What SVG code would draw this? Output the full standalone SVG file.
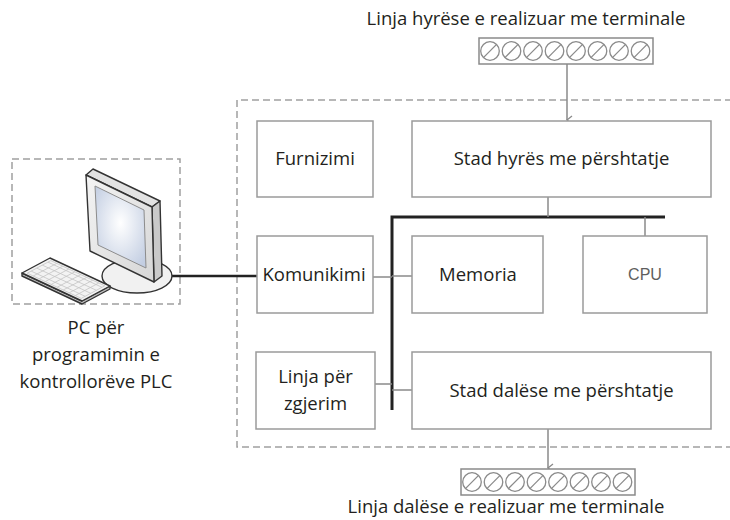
<svg xmlns="http://www.w3.org/2000/svg" width="730" height="520" viewBox="0 0 730 520">
  <style>
    .t { font-family: "Open Sans", "Noto Sans", sans-serif; font-size: 18.5px; fill: #231f20; text-anchor: middle; }
    .cpu { font-family: "Liberation Sans", Arial, sans-serif; font-size: 16px; fill: #5e5e5e; text-anchor: middle; }
    .box { fill: #ffffff; stroke: #9a9a9a; stroke-width: 1.5; }
    .dash { fill: none; stroke: #a0a0a0; stroke-width: 1.5; stroke-dasharray: 7 4; }
    .link { fill: none; stroke: #8a8a8a; stroke-width: 1.5; }
    .bus { fill: none; stroke: #222222; stroke-width: 3; }
    .cable { fill: none; stroke: #222222; stroke-width: 2.5; }
    .outline { stroke: #333333; stroke-width: 1.4; stroke-linejoin: round; }
  </style>
  <defs>
    <marker id="arrow" markerWidth="10" markerHeight="10" refX="5" refY="8" orient="auto-start-reverse" markerUnits="userSpaceOnUse" viewBox="0 0 10 10">
      <path d="M1,3 L5,8 L9,3" fill="none" stroke="#8a8a8a" stroke-width="1.3"/>
    </marker>
    <radialGradient id="screen" cx="0.5" cy="0.45" r="0.65">
      <stop offset="0" stop-color="#ffffff"/>
      <stop offset="1" stop-color="#c3cee2"/>
    </radialGradient>
    <linearGradient id="bezel" x1="0" y1="0" x2="1" y2="1">
      <stop offset="0" stop-color="#f4f4f4"/>
      <stop offset="1" stop-color="#d6d6d6"/>
    </linearGradient>
    <!-- one screw terminal: circle with a slot -->
    <g id="screw">
      <circle r="9.3" fill="#ffffff" stroke="#8a8a8a" stroke-width="1.3"/>
      <line x1="-6.6" y1="6.6" x2="6.6" y2="-6.6" stroke="#8a8a8a" stroke-width="1.3"/>
    </g>
    <!-- terminal strip with eight screws -->
    <g id="strip">
      <rect x="0" y="0" width="174" height="26" fill="#ffffff" stroke="#8a8a8a" stroke-width="1.5"/>
      <use href="#screw" x="11" y="13"/>
      <use href="#screw" x="32.5" y="13"/>
      <use href="#screw" x="54" y="13"/>
      <use href="#screw" x="75.5" y="13"/>
      <use href="#screw" x="97" y="13"/>
      <use href="#screw" x="118.5" y="13"/>
      <use href="#screw" x="140" y="13"/>
      <use href="#screw" x="161.5" y="13"/>
    </g>
  </defs>

  <rect width="730" height="520" fill="#ffffff"/>

  <!-- enclosures -->
  <path class="dash" d="M732,100 H237 V447 H732"/>
  <rect class="dash" x="12" y="159" width="168" height="145"/>

  <!-- connectors -->
  <g id="connectors">
    <path class="cable" d="M171,276 H257"/>
    <path class="bus" d="M392,410 V217 H665"/>
    <path class="link" d="M548,197 V217"/>
    <path class="link" d="M645,217 V236"/>
    <path class="link" d="M373,277 H392"/>
    <path class="link" d="M392,276 H412"/>
    <path class="link" d="M375,384 H392"/>
    <path class="link" d="M392,390 H412"/>
    <path class="link" d="M567,64 V120" marker-end="url(#arrow)"/>
    <path class="link" d="M548,429 V468" marker-end="url(#arrow)"/>
  </g>

  <!-- input terminals -->
  <g id="input-terminals">
    <text class="t" x="526" y="25">Linja hyrëse e realizuar me terminale</text>
    <use href="#strip" x="479" y="38"/>
  </g>

  <!-- output terminals -->
  <g id="output-terminals">
    <use href="#strip" x="461" y="469"/>
    <text class="t" x="506" y="513">Linja dalëse e realizuar me terminale</text>
  </g>

  <g id="furnizimi">
    <rect class="box" x="257" y="121" width="116" height="76"/>
    <text class="t" x="315" y="165">Furnizimi</text>
  </g>

  <g id="stad-hyres">
    <rect class="box" x="412" y="121" width="299" height="76"/>
    <text class="t" x="561.5" y="165">Stad hyrës me përshtatje</text>
  </g>

  <g id="komunikimi">
    <rect class="box" x="257" y="236" width="116" height="77"/>
    <text class="t" x="314" y="281">Komunikimi</text>
  </g>

  <g id="memoria">
    <rect class="box" x="412" y="236" width="131" height="77"/>
    <text class="t" x="478" y="281">Memoria</text>
  </g>

  <g id="cpu">
    <rect class="box" x="583" y="236" width="124" height="77"/>
    <text class="cpu" x="645" y="280">CPU</text>
  </g>

  <g id="zgjerim">
    <rect class="box" x="256" y="352" width="119" height="77"/>
    <text class="t" x="315.5" y="383">Linja për</text>
    <text class="t" x="315.5" y="410">zgjerim</text>
  </g>

  <g id="stad-dalese">
    <rect class="box" x="412" y="352" width="299" height="77"/>
    <text class="t" x="561.5" y="397">Stad dalëse me përshtatje</text>
  </g>

  <!-- programming PC -->
  <g id="pc">
    <!-- monitor stand -->
    <ellipse cx="137" cy="276" rx="35" ry="17" fill="#f1f1f1" class="outline"/>
    <!-- monitor body -->
    <polygon points="86,175 93,169 160,201 152,207" fill="#e2e2e2" class="outline"/>
    <polygon points="152,207 160,201 162,276 154,282" fill="#c9c9c9" class="outline"/>
    <polygon points="86,175 152,207 154,282 90,251" fill="url(#bezel)" class="outline"/>
    <polygon points="95,186 144,210 146,268 98,245" fill="url(#screen)" stroke="#8c8c8c" stroke-width="1"/>
    <!-- keyboard -->
    <polygon points="22,273 82,301 110,286 110,289 82,304 22,276" fill="#bdbdbd" class="outline"/>
    <g transform="matrix(60 28 28 -15 22 273)">
      <polygon points="0,0 1,0 1,1 0,1" fill="#f3f3f3" stroke="#333333" stroke-width="1.4" vector-effect="non-scaling-stroke" stroke-linejoin="round"/>
      <path d="M0.05,0.22 H0.95 M0.05,0.42 H0.95 M0.05,0.62 H0.95 M0.05,0.82 H0.95 M0.15,0.08 V0.92 M0.25,0.08 V0.92 M0.35,0.08 V0.92 M0.45,0.08 V0.92 M0.55,0.08 V0.92 M0.65,0.08 V0.92 M0.75,0.08 V0.92 M0.85,0.08 V0.92" fill="none" stroke="#c4c4c4" stroke-width="0.8" vector-effect="non-scaling-stroke"/>
      <rect x="0.05" y="0.08" width="0.9" height="0.84" fill="none" stroke="#c4c4c4" stroke-width="0.8" vector-effect="non-scaling-stroke"/>
    </g>
    <text class="t" x="96" y="334">PC për</text>
    <text class="t" x="96" y="361">programimin e</text>
    <text class="t" x="96" y="388">kontrollorëve PLC</text>
  </g>
</svg>
